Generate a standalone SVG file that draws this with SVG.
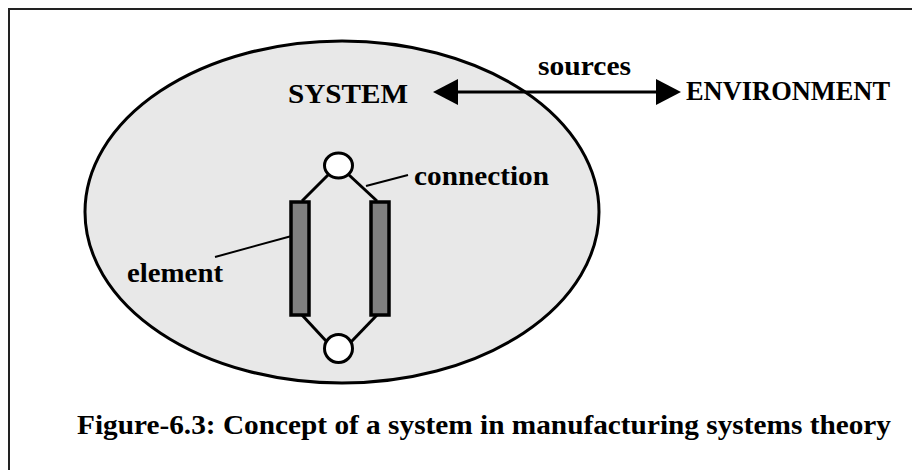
<svg xmlns="http://www.w3.org/2000/svg" width="912" height="470" viewBox="0 0 912 470">
<style>
.t{font-family:"Liberation Serif","Times New Roman",serif;font-weight:bold;font-size:27px;fill:#000}
.ln{stroke:#000;stroke-width:3;fill:none}
.el{fill:#808080;stroke:#000;stroke-width:3.5}
.nd{fill:#fff;stroke:#000;stroke-width:3}
</style>
<defs>
<polygon id="ah" points="0,0 -25,-13 -25,13" fill="#000"/>
</defs>
<rect x="9" y="9" width="920" height="480" fill="#fff" stroke="#222" stroke-width="2"/>
<g id="system">
<ellipse cx="342" cy="212" rx="257" ry="171" fill="#e8e8e8" stroke="#000" stroke-width="3"/>
<text class="t" x="288" y="103" textLength="120" lengthAdjust="spacingAndGlyphs">SYSTEM</text>
</g>
<g id="environment">
<text class="t" x="686" y="100" textLength="204" lengthAdjust="spacingAndGlyphs">ENVIRONMENT</text>
</g>
<g id="connectors">
<line class="ln" x1="452" y1="92" x2="660" y2="92" stroke-width="4"/>
<use href="#ah" transform="translate(433,92) rotate(180)"/>
<use href="#ah" transform="translate(681,92)"/>
<text class="t" x="538" y="75" textLength="93" lengthAdjust="spacingAndGlyphs">sources</text>
<line class="ln" x1="328" y1="175" x2="302" y2="201"/>
<line class="ln" x1="349" y1="175" x2="377" y2="201"/>
<line class="ln" x1="302" y1="315" x2="327" y2="342"/>
<line class="ln" x1="377" y1="315" x2="351" y2="342"/>
<line stroke="#000" stroke-width="2" x1="366" y1="186" x2="408" y2="175"/>
<line stroke="#000" stroke-width="2" x1="215" y1="257" x2="299" y2="234"/>
</g>
<g id="node-top">
<ellipse class="nd" cx="338.5" cy="165.5" rx="14" ry="12.5"/>
</g>
<g id="node-bottom">
<ellipse class="nd" cx="338.5" cy="348.5" rx="14" ry="14"/>
</g>
<g id="element-left">
<rect class="el" x="291" y="202" width="18" height="113"/>
</g>
<g id="element-right">
<rect class="el" x="371" y="202" width="18" height="113"/>
</g>
<g id="labels">
<text class="t" x="414" y="185" textLength="135" lengthAdjust="spacingAndGlyphs">connection</text>
<text class="t" x="127" y="282" textLength="96" lengthAdjust="spacingAndGlyphs">element</text>
</g>
<g id="caption">
<text class="t" x="77" y="434" textLength="814" lengthAdjust="spacingAndGlyphs">Figure-6.3: Concept of a system in manufacturing systems theory</text>
</g>
</svg>
